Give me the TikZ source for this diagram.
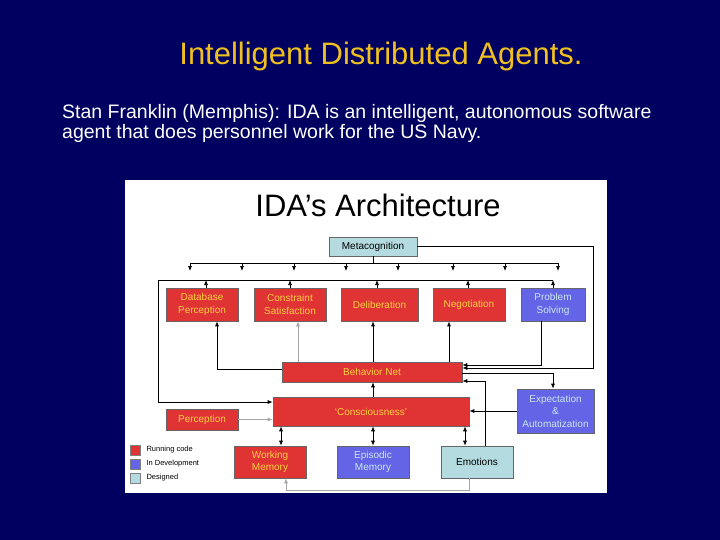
\documentclass[tikz,border=0pt]{standalone}
\usepackage{fontspec}
\setmainfont{Liberation Sans}
\usetikzlibrary{arrows.meta}
\definecolor{bg}{HTML}{000060}
\definecolor{ttl}{HTML}{F0C020}
\definecolor{rb}{HTML}{E03434}
\definecolor{bb}{HTML}{6464E6}
\definecolor{cb}{HTML}{B4DCE0}
\definecolor{yt}{HTML}{F8D040}
\definecolor{bt}{HTML}{C8E8F0}
\tikzset{
 bx/.style={draw=black!60,line width=0.6pt,inner sep=0pt,align=center,font=\fontsize{10}{12.5}\selectfont},
 red/.style={bx,fill=rb,text=yt},
 blu/.style={bx,fill=bb,text=bt},
 cya/.style={bx,fill=cb,text=black},
 ar/.style={-{Latex[length=5pt,width=4pt]},line width=0.7pt},
 ga/.style={ar,draw=black!35},
 dar/.style={{Latex[length=5pt,width=4pt]}-{Latex[length=5pt,width=4pt]},line width=0.7pt},
 lg/.style={anchor=west,font=\fontsize{7.5}{8}\selectfont}
}
\begin{document}
\begin{tikzpicture}[x=1pt,y=-1pt]
\fill[bg] (0,0) rectangle (720,540);
\useasboundingbox (0,0) rectangle (720,540);
\node[text=ttl,font=\fontsize{31}{34}\selectfont] (t) at (381,56) {Intelligent Distributed Agents.};
\node[text=white,anchor=north west,align=left,font=\fontsize{19.5}{20}\selectfont,inner sep=0pt] (b) at (62,104) {Stan Franklin (Memphis): IDA is an intelligent, autonomous software\\agent that does personnel work for the US Navy.};
\fill[white] (125,180) rectangle (607,493);
\node[font=\fontsize{31}{34}\selectfont] (at) at (378,205) {IDA’s Architecture};
\node[cya,minimum width=88,minimum height=19] (meta) at (373,246.5) {Metacognition};
\node[red,minimum width=72,minimum height=33] (db) at (202,304.5) {Database\\Perception};
\node[red,minimum width=72,minimum height=33] (cs) at (290,304.5) {Constraint\\Satisfaction};
\node[red,minimum width=77,minimum height=33] (de) at (379.5,304.5) {Deliberation};
\node[red,minimum width=72,minimum height=33] (ne) at (469,304.5) {Negotiation};
\node[blu,minimum width=64,minimum height=33] (ps) at (553,304.5) {Problem\\Solving};
\node[red,minimum width=180,minimum height=20] (bn) at (372,372) {Behavior Net};
\node[red,minimum width=196,minimum height=29] (co) at (371,411.5) {‘Consciousness’};
\node[red,minimum width=72,minimum height=21] (pe) at (202,419.5) {Perception};
\node[blu,minimum width=77,minimum height=44] (ex) at (555.5,411) {Expectation\\\&\\Automatization};
\node[red,minimum width=72,minimum height=32] (wm) at (270,462) {Working\\Memory};
\node[blu,minimum width=72,minimum height=32] (em) at (373,462) {Episodic\\Memory};
\node[cya,minimum width=72,minimum height=32] (emo) at (477,462) {Emotions};
% legend
\node[fill=rb,draw=black!50,minimum size=10,inner sep=0pt] (l1) at (135.5,450) {};
\node[fill=bb,draw=black!50,minimum size=10,inner sep=0pt] (l2) at (135.5,464) {};
\node[fill=cb,draw=black!50,minimum size=10,inner sep=0pt] (l3) at (135.5,478) {};
\node[lg] at (143,450) {Running code};
\node[lg] at (143,464) {In Development};
\node[lg] at (143,478) {Designed};
% metacognition fan-out
\draw[line width=0.7pt] (meta.south) -- (373,263);
\draw[line width=0.7pt] (190,263) -- (558,263);
\foreach \x in {190,242,294,346,398,453,505,558} \draw[ar] (\x,263) -- (\x,271);
% top collector line
\coordinate (tl) at (158,280);
\draw[line width=0.7pt] (158,280) -- (553,280);
\draw[ar] (db.north -| 206,0) -- (206,280);
\draw[ar] (cs.north) -- (290,280);
\draw[ar] (de.north -| 377,0) -- (377,280);
\draw[ar] (ne.north -| 468,0) -- (468,280);
\draw[ar] (ps.north) -- (553,280);
\draw[ar] (tl) -- (158,402) -- (co.west |- 0,402);
% behavior net to modules
\draw[ar] (bn.west |- 0,369) -- (217,369) -- (db.south -| 217,0);
\draw[ga] (bn.north -| 298,0) -- (cs.south -| 298,0);
\draw[ar] (bn.north -| 373,0) -- (de.south -| 373,0);
\draw[ar,line width=1pt] (bn.north -| 449,0) -- (ne.south -| 449,0);
\draw[ar] (ps.south -| 541,0) -- (541,365) -- (bn.east |- 0,365);
\draw[ar] (meta.east) -- (593,246.5) -- (593,368) -- (bn.east |- 0,368);
\draw[ar] (bn.east |- 0,373) -- (553,373) -- (ex.north -| 553,0);
\draw[ar] (emo.north -| 485,0) -- (485,381) -- (bn.east |- 0,381);
\draw[ar] (ex.west) -- (co.east |- ex.west);
\draw[ar] (co.north -| 373,0) -- (bn.south -| 373,0);
\draw[ga] (pe.east) -- (co.west |- pe.east);
\draw[dar] (co.south -| 281,0) -- (wm.north -| 281,0);
\draw[dar] (co.south -| 373,0) -- (em.north);
\draw[dar] (co.south -| 465,0) -- (emo.north -| 465,0);
\draw[ga] (emo.south -| 469,0) -- (469,490) -- (286,490) -- (wm.south -| 286,0);
\end{tikzpicture}
\end{document}
